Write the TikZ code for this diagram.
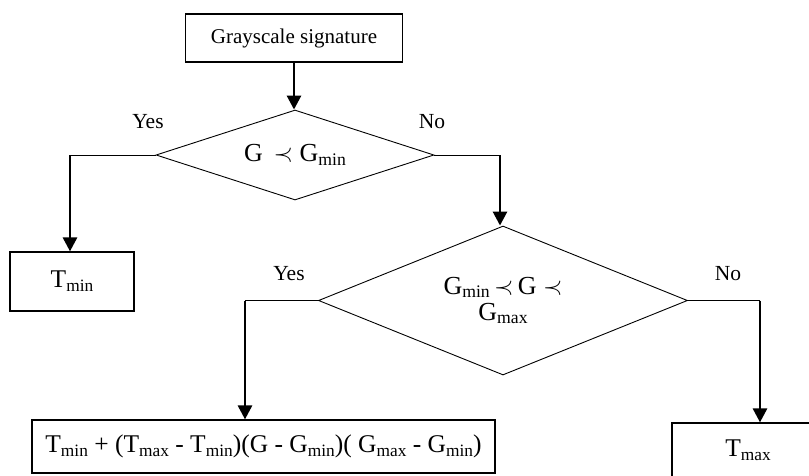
\documentclass[tikz,border=0pt]{standalone}
\usepackage{fontspec}
\setmainfont{Liberation Serif}
\usepackage{graphicx}
\usetikzlibrary{shapes.geometric,arrows.meta}
\newcommand\lowsub[1]{\raisebox{-0.15em}{\scalebox{0.68}{#1}}}
\newcommand\precsym{\ensuremath{\prec}}
\tikzset{
  boxnode/.style={draw, line width=1.2pt, inner sep=0pt, font=\fontsize{25.5}{30}\selectfont},
  topbox/.style={draw, line width=1.2pt, inner sep=0pt, font=\fontsize{21}{25}\selectfont},
  decision/.style={draw, diamond, line width=0.9pt, inner sep=0pt, shape aspect=3, font=\fontsize{26}{30}\selectfont, align=center},
  lbl/.style={font=\fontsize{21.5}{24}\selectfont, inner sep=0pt},
  thin/.style={line width=1pt},
  flow/.style={line width=2.8pt, -{Triangle[width=14pt,length=14pt]}}
}
\begin{document}
\begin{tikzpicture}[x=1pt,y=-1pt]
\useasboundingbox (0,0) rectangle (809,475);
\clip (0,0) rectangle (809,475);
\node[topbox, minimum width=217pt, minimum height=48pt] (top) at (294,38) {Grayscale signature};
\node[decision, minimum width=278pt, minimum height=90pt] (d1) at (295,155) {G \,\precsym\ G\lowsub{min}};
\node[boxnode, minimum width=124pt, minimum height=59pt] (tmin) at (72,281.5) {T\lowsub{min}};
\node[decision, shape aspect=2.5, minimum width=369pt, minimum height=149pt] (d2) at (503,300.5) {G\lowsub{min}\,\precsym\,G \precsym\\[-4pt]G\lowsub{max}};
\node[boxnode, minimum width=463pt, minimum height=53pt] (form) at (263.5,446.5) {T\lowsub{min} + (T\lowsub{max} - T\lowsub{min})(G - G\lowsub{min})( G\lowsub{max} - G\lowsub{min})};
\node[boxnode, minimum width=152pt, minimum height=54pt] (tmax) at (748,450) {T\lowsub{max}};

\node[lbl] (y1) at (148,122) {Yes};
\node[lbl] (n1) at (432,122) {No};
\node[lbl] (y2) at (289,274) {Yes};
\node[lbl] (n2) at (728,274) {No};

\coordinate (c1) at (70,155);
\coordinate (c2) at (500,155);
\coordinate (c3) at (245,300.5);
\coordinate (c4) at (760,300.5);

\draw[flow] (top.south) -- (top.south |- d1.north);
\draw[thin] (d1.west) -- (c1);
\draw[flow] (c1) -- (c1 |- tmin.north);
\draw[thin] (d1.east) -- (c2);
\draw[flow] (c2) -- (c2 |- d2.north);
\draw[thin] (d2.west) -- (c3);
\draw[flow] (c3) -- (c3 |- form.north);
\draw[thin] (d2.east) -- (c4);
\draw[flow] (c4) -- (c4 |- tmax.north);
\end{tikzpicture}
\end{document}
